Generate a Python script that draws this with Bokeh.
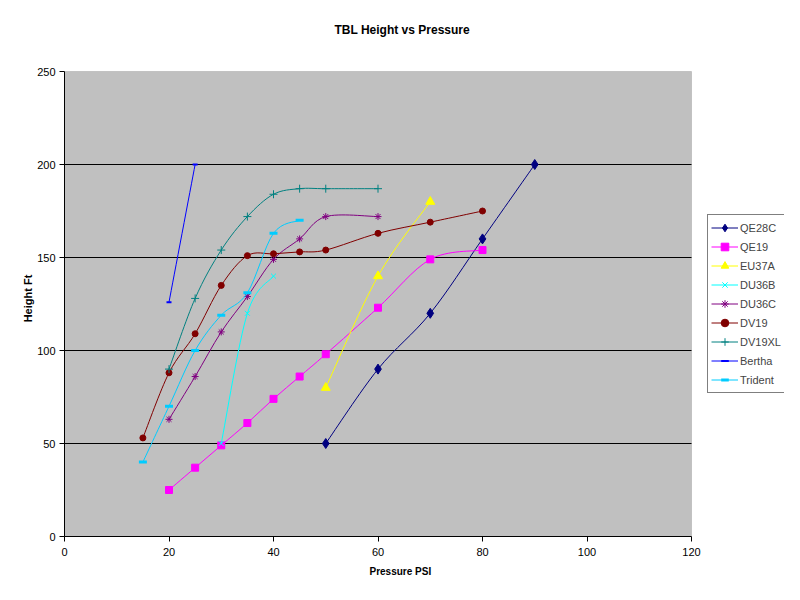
from bokeh.plotting import figure
from bokeh.models import (Legend, LegendItem, ColumnDataSource, FixedTicker,
                          Range1d, BoxAnnotation, Title)
from bokeh.embed import file_html
from bokeh.resources import INLINE

# ---- data ----
qe28c_x = [50, 60, 70, 80, 90]
qe28c_y = [50, 90, 120, 160, 200]
qe19_x = [20, 25, 30, 35, 40, 45, 50, 60, 70, 80]
qe19_y = [25, 37, 49, 61, 74, 86, 98, 123, 149, 154]
eu37a_x = [50, 60, 70]
eu37a_y = [80, 140, 180]
du36b_x = [30, 35, 40]
du36b_y = [50, 120, 140]
du36c_x = [20, 25, 30, 35, 40, 45, 50, 60]
du36c_y = [63, 86, 110, 129, 149, 160, 172, 172]
dv19_x = [15, 20, 25, 30, 35, 40, 45, 50, 60, 70, 80]
dv19_y = [53, 88, 109, 135, 151, 152, 153, 154, 163, 169, 175]
dv19xl_x = [20, 25, 30, 35, 40, 45, 50, 60]
dv19xl_y = [90, 128, 154, 172, 184, 187, 187, 187]
bertha_x = [20, 25]
bertha_y = [126, 200]
trident_x = [15, 20, 25, 30, 35, 40, 45]
trident_y = [40, 70, 100, 119, 131, 163, 170]

series_names = ["QE28C", "QE19", "EU37A", "DU36B", "DU36C", "DV19", "DV19XL", "Bertha", "Trident"]
x_ticks = [0, 20, 40, 60, 80, 100, 120]
y_ticks = [0, 50, 100, 150, 200, 250]
title_text = "TBL Height vs Pressure"
x_label = "Pressure PSI"
y_label = "Height Ft"

FONT = "Liberation Sans"

# ---- geometry (pixels) ----
W, H = 784, 584
PLOT_L, PLOT_R, PLOT_T, PLOT_B = 64, 691, 71, 536   # grey plot area
FRAME_T = 60
x_lo, x_hi = x_ticks[0], x_ticks[-1]
y_lo, y_hi = y_ticks[0], y_ticks[-1]
px_per_x = (PLOT_R - PLOT_L) / (x_hi - x_lo)
px_per_y = (PLOT_B - PLOT_T) / (y_hi - y_lo)
x_end = x_lo + (W - PLOT_L) / px_per_x
y_end = y_lo + (PLOT_B - FRAME_T) / px_per_y

series = [
    (qe28c_x, qe28c_y, "#000080", "diamond", 10, 1, "#000080"),
    (qe19_x, qe19_y, "#FF00FF", "square", 7, 1, "#FF00FF"),
    (eu37a_x, eu37a_y, "#FFFF00", "triangle", 9, 1, "#FFFF00"),
    (du36b_x, du36b_y, "#00FFFF", "x", 7, 1, None),
    (du36c_x, du36c_y, "#800080", "asterisk", 7, 1, None),
    (dv19_x, dv19_y, "#800000", "circle", 6, 1, "#800000"),
    (dv19xl_x, dv19xl_y, "#008080", "cross", 8, 1, None),
    (bertha_x, bertha_y, "#0000FF", "dash", 5, 2, None),
    (trident_x, trident_y, "#00CCFF", "dash", 8, 3, None),
]


def smooth_segments(xs, ys):
    n = len(xs)
    out = dict(x0=[], y0=[], x1=[], y1=[], cx0=[], cy0=[], cx1=[], cy1=[])
    for i in range(n - 1):
        xm = xs[i - 1] if i > 0 else xs[i]
        ym = ys[i - 1] if i > 0 else ys[i]
        xp = xs[i + 2] if i + 2 < n else xs[i + 1]
        yp = ys[i + 2] if i + 2 < n else ys[i + 1]
        out["x0"].append(xs[i]); out["y0"].append(ys[i])
        out["x1"].append(xs[i + 1]); out["y1"].append(ys[i + 1])
        out["cx0"].append(xs[i] + (xs[i + 1] - xm) / 6.0)
        out["cy0"].append(ys[i] + (ys[i + 1] - ym) / 6.0)
        out["cx1"].append(xs[i + 1] - (xp - xs[i]) / 6.0)
        out["cy1"].append(ys[i + 1] - (yp - ys[i]) / 6.0)
    return out


p = figure(width=W, height=H, output_backend="svg", toolbar_location=None,
           x_range=Range1d(x_lo, x_end), y_range=Range1d(y_lo, y_end),
           min_border_left=PLOT_L, min_border_right=0, min_border_top=FRAME_T,
           min_border_bottom=H - PLOT_B)
p.background_fill_color = "white"
p.border_fill_color = "white"
p.outline_line_color = None
p.xgrid.visible = False
p.ygrid.visible = False

# chart title, centred on the whole chart
p.title.text = title_text
p.title.align = "left"
p.title.offset = 270
p.title.vertical_align = "top"
p.title.standoff = 43
p.title.text_font = FONT
p.title.text_font_size = "12px"
p.title.text_font_style = "bold"
p.title.text_color = "black"

# grey plot area
p.add_layout(BoxAnnotation(left=x_lo, right=x_hi, bottom=y_lo, top=y_hi,
                           fill_color="#C0C0C0", fill_alpha=1,
                           line_color="#808080", line_width=1, level="underlay"))

# horizontal gridlines
grid_y = y_ticks[1:-1]
p.segment(x0=[x_lo] * len(grid_y), x1=[x_hi] * len(grid_y), y0=grid_y, y1=grid_y,
          line_color="black", line_width=1)

for ax in (p.xaxis[0], p.yaxis[0]):
    ax.axis_line_color = "black"
    ax.major_tick_line_color = "black"
    ax.major_tick_out = 5
    ax.major_tick_in = 0
    ax.minor_tick_out = 0
    ax.minor_tick_in = 0
    ax.major_label_text_font = FONT
    ax.major_label_text_font_size = "11px"
    ax.major_label_text_color = "black"
    ax.axis_label_text_font = FONT
    ax.axis_label_text_font_size = "11px"
    ax.axis_label_text_font_style = "bold"
    ax.axis_label_text_color = "black"
    ax.major_label_standoff = 4

p.xaxis.major_label_standoff = 6
p.xaxis.ticker = FixedTicker(ticks=x_ticks)
p.yaxis.ticker = FixedTicker(ticks=y_ticks)
p.xaxis.bounds = (x_lo, x_hi)
p.yaxis.bounds = (y_lo, y_hi)
p.yaxis.axis_label = y_label
p.yaxis.axis_label_standoff = 0

# x axis label, centred on the whole chart
p.add_layout(Title(text=x_label, align="left", offset=305, vertical_align="bottom",
                   standoff=10, text_font=FONT, text_font_size="10px",
                   text_font_style="bold", text_color="black"), "below")

items = []
for (xs, ys, color, marker, size, lw, fill), name in zip(series, series_names):
    seg = ColumnDataSource(smooth_segments(xs, ys))
    r_line = p.bezier(x0="x0", y0="y0", x1="x1", y1="y1", cx0="cx0", cy0="cy0",
                      cx1="cx1", cy1="cy1", source=seg, line_color=color, line_width=1)
    r_pts = p.scatter(xs, ys, marker=marker, size=size, line_color=color,
                      fill_color=fill if fill else color, line_width=lw)
    items.append(LegendItem(label=name, renderers=[r_line, r_pts]))

legend = Legend(items=items, location=(707 - PLOT_L, PLOT_B - 393))
legend.border_line_color = "black"
legend.border_line_width = 1
legend.background_fill_color = "white"
legend.background_fill_alpha = 1
legend.label_text_font = FONT
legend.label_text_font_size = "11px"
legend.glyph_width = 27
legend.glyph_height = 19
legend.label_height = 19
legend.label_standoff = 2
legend.spacing = 0
legend.padding = 3
legend.margin = 0
p.add_layout(legend, "center")

open("out.html", "w").write(file_html(p, INLINE))
